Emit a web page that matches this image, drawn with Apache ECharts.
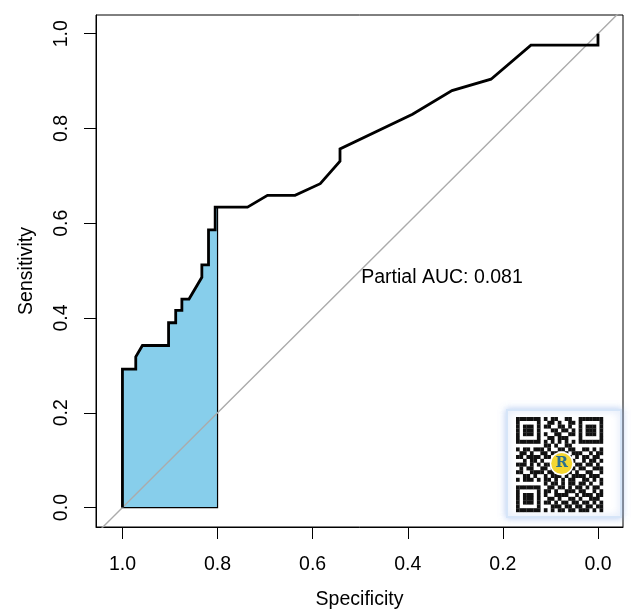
<!DOCTYPE html>
<html>
<head>
<meta charset="utf-8">
<script src="https://cdn.jsdelivr.net/npm/echarts@6/dist/echarts.min.js"></script>
<style>
html,body{margin:0;padding:0;background:#fff;}
#chart{width:639px;height:615px;}
</style>
</head>
<body>
<div id="chart"></div>
<script>
// ROC curve points (specificity, sensitivity)
const specificity = [1.0, 1.0, 0.972, 0.972, 0.958, 0.903, 0.903, 0.888, 0.888, 0.875, 0.875, 0.860, 0.833, 0.833, 0.819, 0.819, 0.805, 0.805, 0.737, 0.695, 0.637, 0.584, 0.5425, 0.5425, 0.390, 0.307, 0.225, 0.141, 0.0, 0.0];
const sensitivity = [0.0, 0.292, 0.292, 0.318, 0.342, 0.342, 0.390, 0.390, 0.416, 0.416, 0.440, 0.440, 0.486, 0.512, 0.512, 0.586, 0.586, 0.634, 0.634, 0.659, 0.659, 0.6835, 0.731, 0.757, 0.830, 0.880, 0.904, 0.976, 0.976, 1.0];
// partial AUC range (specificity)
const pAucFrom = 1.0;
const pAucTo = 0.8;
const pAucText = "Partial AUC: 0.081";
const pAucTextPos = [0.328, 0.485];
// tick labels
const xTicks = [1.0, 0.8, 0.6, 0.4, 0.2, 0.0];
const yTicks = [0.0, 0.2, 0.4, 0.6, 0.8, 1.0];

// QR watermark pattern (decoration)
const qrRows = [
"1111111010110011001111111",
"1000001001101001101000001",
"1011101011001101001011101",
"1011101000110110101011101",
"1011101010011001101011101",
"1000001001101110001000001",
"1111111010101010101111111",
"0000000011010011000000000",
"1011011101001101100110101",
"0110100110110010111001011",
"1101111011001011010110110",
"0010110100111101100101101",
"1110101011010110011011010",
"0101100110101001101100111",
"1100111101100111010011001",
"0011010010111010111101110",
"1011101011010101100110101",
"0000000010110101101101001",
"1111111001101101011010110",
"1000001011010011101100101",
"1011101010011110010111011",
"1011101001101001101001110",
"1011101011010110110110101",
"1000001000111011011011011",
"1111111010101101101110101"
];

const curve = specificity.map((s, i) => [s, sensitivity[i]]);

// polygon of the partial AUC region
const poly = [];
for (let i = 0; i < curve.length; i++) {
  const p = curve[i];
  if (p[0] >= pAucTo) poly.push(p);
  if (i + 1 < curve.length) {
    const q = curve[i + 1];
    if (p[0] > pAucTo && q[0] < pAucTo) {
      const t = (p[0] - pAucTo) / (p[0] - q[0]);
      poly.push([pAucTo, p[1] + t * (q[1] - p[1])]);
    }
  }
}
poly.push([pAucTo, 0]);
poly.push([pAucFrom, 0]);

const FONT = "'Liberation Sans', Arial, Helvetica, sans-serif";
const FS = 19.5;

// QR graphic
const qrEls = [];
const qx = 516, qy = 417, mw = 87 / 25, mh = 95 / 25;
qrEls.push({type:'rect', shape:{x:507, y:410, width:114, height:107},
  style:{fill:'#fff', stroke:'#d6e5f8', lineWidth:2, shadowBlur:7, shadowColor:'rgba(140,175,235,0.6)'}, z:100});
qrRows.forEach((row, r) => {
  for (let c = 0; c < row.length; c++) {
    if (row[c] === '1') {
      qrEls.push({type:'rect', shape:{x:qx + c*mw, y:qy + r*mh, width:mw+0.2, height:mh+0.2},
        style:{fill:'#111'}, z:101});
    }
  }
});
qrEls.push({type:'circle', shape:{cx:561.7, cy:463.5, r:12}, style:{fill:'#fff'}, z:102});
qrEls.push({type:'circle', shape:{cx:561.7, cy:463.5, r:10.5}, style:{fill:'#f5d631'}, z:103});
qrEls.push({type:'text', x:561.7, y:463.5, style:{text:'R', fill:'#2a6f8f', font:'bold 15px "DejaVu Serif", serif', align:'center', verticalAlign:'middle'}, z:104});

const chart = echarts.init(document.getElementById('chart'), null, {renderer:'canvas'});
chart.setOption({
  animation: false,
  backgroundColor: '#fff',
  grid: {left: 96, right: 16, top: 15, bottom: 88, show: true, borderColor: '#000', borderWidth: 1, backgroundColor: 'transparent'},
  xAxis: {
    type: 'value', inverse: true, min: -0.0526, max: 1.0556,
    name: 'Specificity', nameLocation: 'middle', nameGap: 63,
    nameTextStyle: {fontFamily: FONT, fontSize: FS, color: '#000'},
    axisLine: {show: true, onZero: false, lineStyle: {color: '#000', width: 1}},
    splitLine: {show: false},
    axisTick: {show: true, length: 12, lineStyle: {color: '#000', width: 1}, customValues: xTicks},
    axisLabel: {show: true, margin: 28, fontFamily: FONT, fontSize: FS, color: '#000',
      customValues: xTicks, formatter: v => v.toFixed(1)}
  },
  yAxis: {
    type: 'value', min: -0.041, max: 1.0395,
    name: 'Sensitivity', nameLocation: 'middle', nameGap: 59, nameRotate: 90,
    nameTextStyle: {fontFamily: FONT, fontSize: FS, color: '#000'},
    axisLine: {show: true, onZero: false, lineStyle: {color: '#000', width: 1}},
    splitLine: {show: false},
    axisTick: {show: true, length: 12, lineStyle: {color: '#000', width: 1}, customValues: yTicks},
    axisLabel: {show: true, margin: 24, rotate: 90, fontFamily: FONT, fontSize: FS, color: '#000',
      customValues: yTicks, formatter: v => v.toFixed(1)}
  },
  series: [
    {
      type: 'custom',
      data: [[pAucTo, 0]],
      z: 1,
      silent: true,
      renderItem: function (params, api) {
        const pts = poly.map(p => api.coord(p));
        return {type: 'polygon', shape: {points: pts},
          style: {fill: '#87CEEB', stroke: '#000', lineWidth: 1.2}};
      }
    },
    {
      type: 'line',
      data: [[1.2, -0.2], [-0.2, 1.2]],
      showSymbol: false, symbol: 'none',
      clip: true, z: 2, silent: true,
      lineStyle: {color: '#ababab', width: 1.4}
    },
    {
      type: 'line',
      data: curve,
      showSymbol: false, symbol: 'none',
      z: 3, silent: true,
      lineStyle: {color: '#000', width: 2.8, join: 'miter'}
    },
    {
      type: 'scatter',
      data: [pAucTextPos],
      symbolSize: 0, z: 4, silent: true,
      itemStyle: {opacity: 1},
      label: {show: true, position: 'inside', formatter: pAucText, opacity: 1,
        fontFamily: FONT, fontSize: FS, color: '#000', textBorderWidth: 0}
    }
  ],
  graphic: qrEls
});
</script>
</body>
</html>
